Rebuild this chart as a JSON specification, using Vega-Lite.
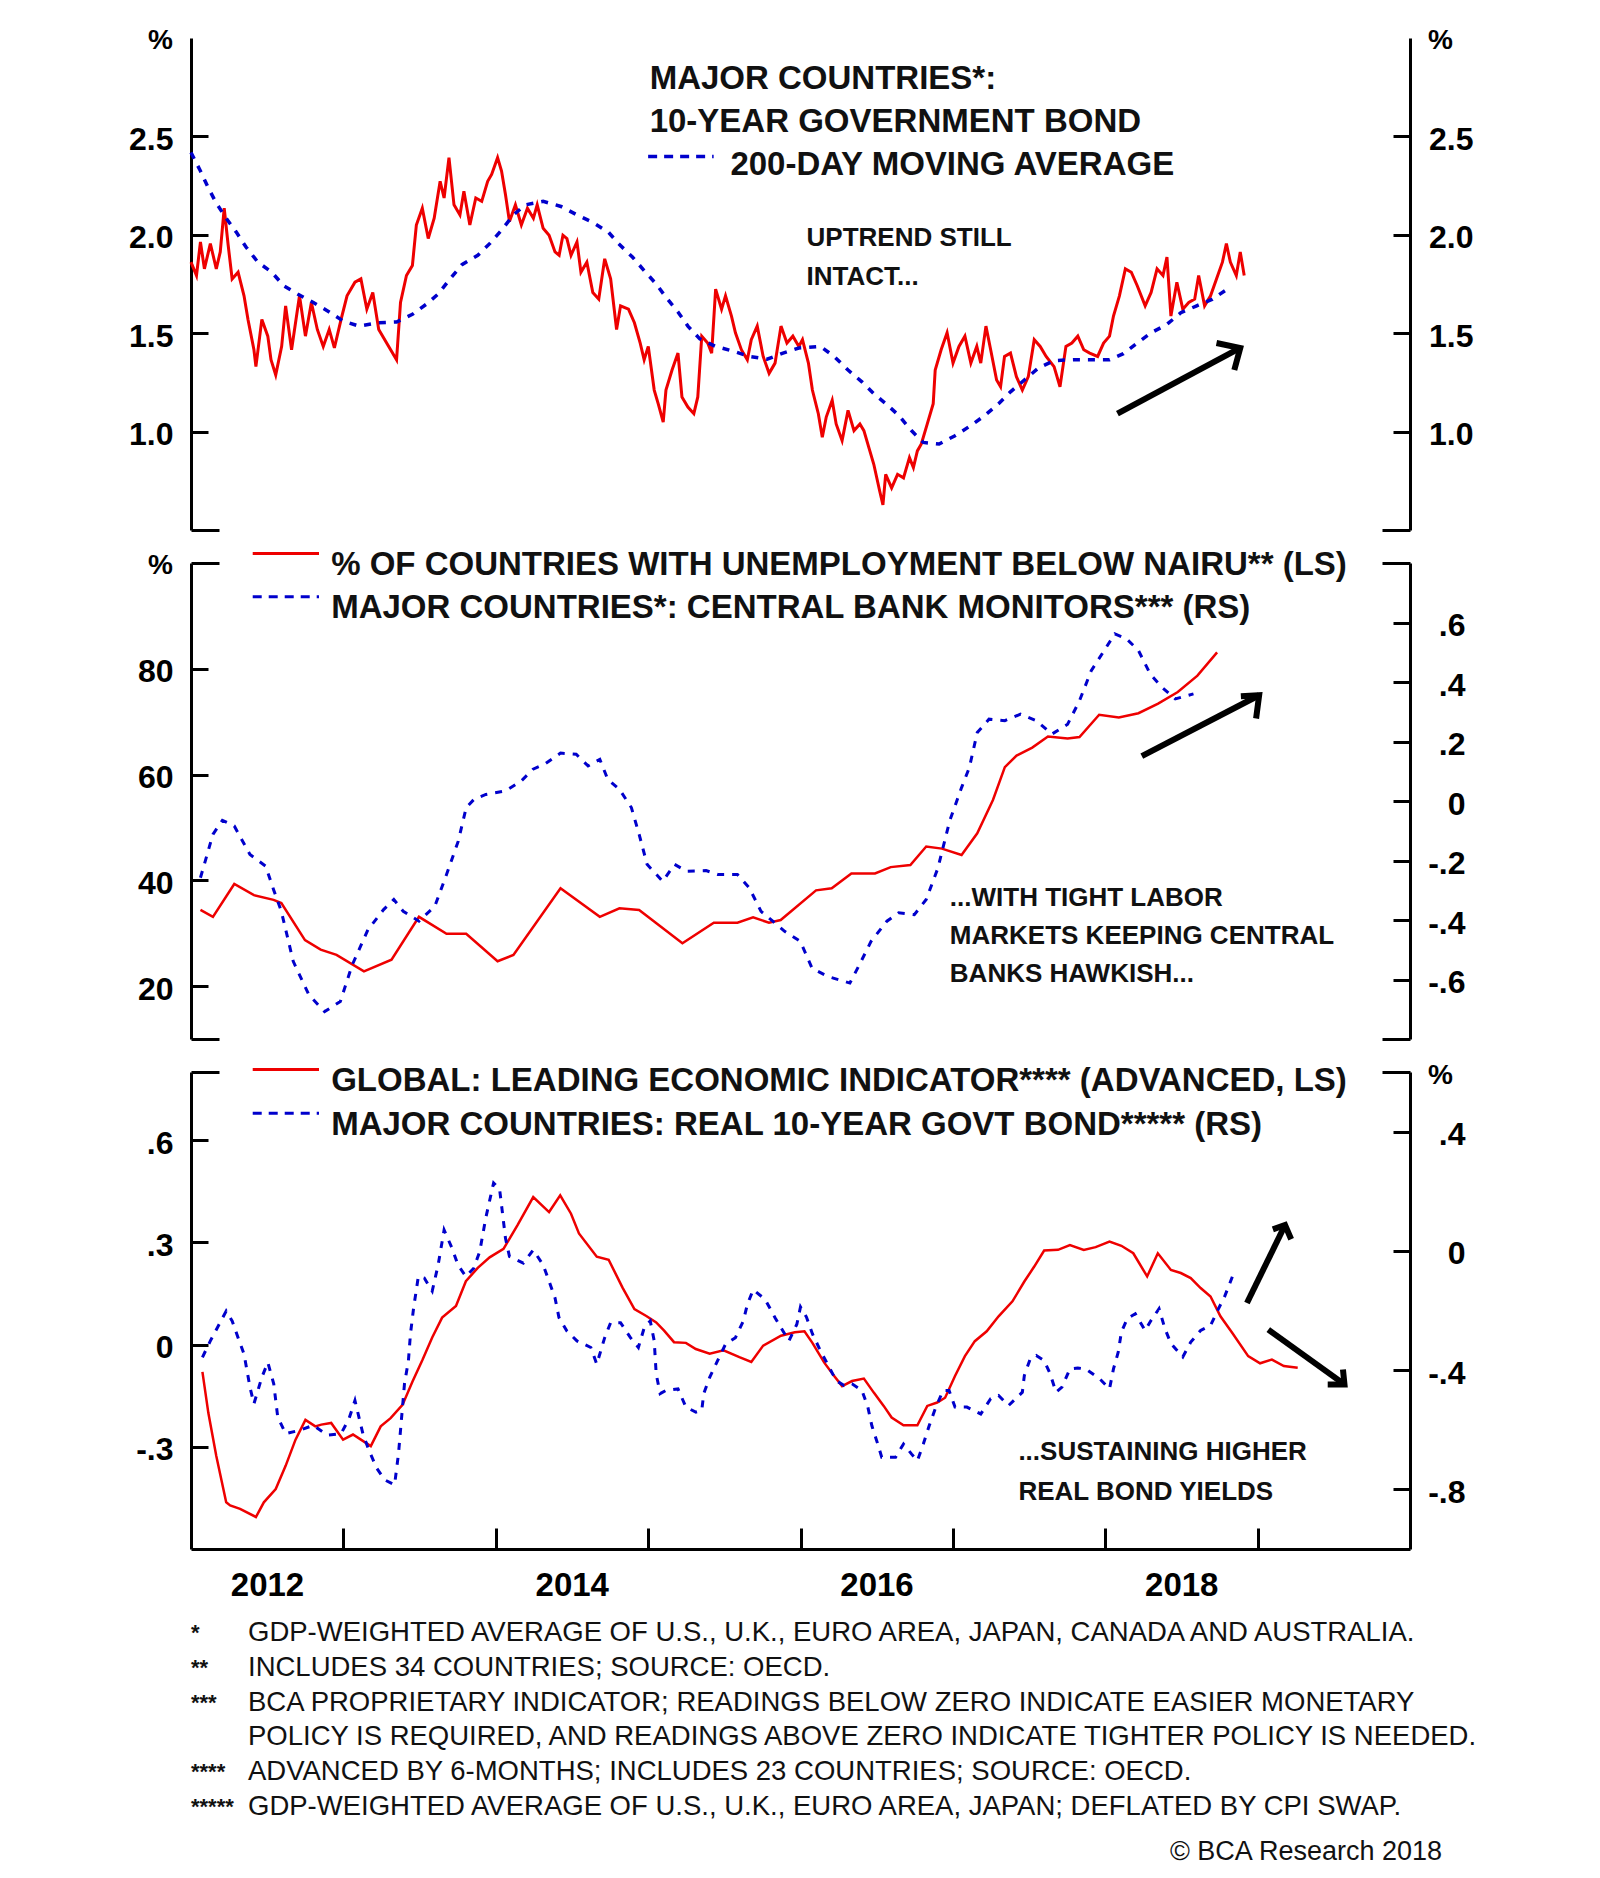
{
"$schema":"https://vega.github.io/schema/vega-lite/v6.json",
"padding":{"left":128,"top":26,"right":10,"bottom":10},
"background":"white",
"config":{"font":"Liberation Sans","view":{"stroke":null},
"axis":{"grid":false,"domainColor":"#000","domainWidth":3,"tickColor":"#000","tickWidth":3,"labelColor":"#000","labelFont":"Liberation Sans","labelFontWeight":"bold","labelFontSize":32,"titleColor":"#000","titleFont":"Liberation Sans","labelOverlap":false,"labelFlush":false},
"text":{"font":"Liberation Sans","color":"#111"}},
"datasets":{
"bond":[{"year":2012.000,"v":1.861},{"year":2012.036,"v":1.793},{"year":2012.062,"v":1.964},{"year":2012.088,"v":1.827},{"year":2012.127,"v":1.955},{"year":2012.166,"v":1.827},{"year":2012.192,"v":1.913},{"year":2012.218,"v":2.135},{"year":2012.244,"v":1.947},{"year":2012.270,"v":1.776},{"year":2012.309,"v":1.810},{"year":2012.348,"v":1.690},{"year":2012.374,"v":1.570},{"year":2012.413,"v":1.416},{"year":2012.426,"v":1.330},{"year":2012.465,"v":1.570},{"year":2012.504,"v":1.485},{"year":2012.525,"v":1.365},{"year":2012.556,"v":1.288},{"year":2012.595,"v":1.433},{"year":2012.621,"v":1.639},{"year":2012.660,"v":1.416},{"year":2012.712,"v":1.690},{"year":2012.751,"v":1.485},{"year":2012.790,"v":1.656},{"year":2012.829,"v":1.519},{"year":2012.868,"v":1.433},{"year":2012.907,"v":1.519},{"year":2012.941,"v":1.425},{"year":2012.985,"v":1.570},{"year":2013.024,"v":1.690},{"year":2013.076,"v":1.759},{"year":2013.115,"v":1.776},{"year":2013.154,"v":1.622},{"year":2013.193,"v":1.707},{"year":2013.232,"v":1.519},{"year":2013.284,"v":1.450},{"year":2013.349,"v":1.365},{"year":2013.375,"v":1.656},{"year":2013.414,"v":1.793},{"year":2013.453,"v":1.844},{"year":2013.479,"v":2.050},{"year":2013.518,"v":2.135},{"year":2013.557,"v":1.981},{"year":2013.596,"v":2.084},{"year":2013.635,"v":2.272},{"year":2013.661,"v":2.187},{"year":2013.693,"v":2.392},{"year":2013.726,"v":2.152},{"year":2013.765,"v":2.101},{"year":2013.791,"v":2.221},{"year":2013.830,"v":2.050},{"year":2013.869,"v":2.187},{"year":2013.908,"v":2.170},{"year":2013.947,"v":2.272},{"year":2013.973,"v":2.307},{"year":2014.012,"v":2.392},{"year":2014.038,"v":2.324},{"year":2014.064,"v":2.204},{"year":2014.090,"v":2.067},{"year":2014.129,"v":2.152},{"year":2014.168,"v":2.050},{"year":2014.208,"v":2.135},{"year":2014.247,"v":2.084},{"year":2014.272,"v":2.152},{"year":2014.311,"v":2.033},{"year":2014.350,"v":1.998},{"year":2014.389,"v":1.913},{"year":2014.416,"v":1.896},{"year":2014.441,"v":1.998},{"year":2014.467,"v":1.981},{"year":2014.494,"v":1.896},{"year":2014.533,"v":1.964},{"year":2014.559,"v":1.810},{"year":2014.598,"v":1.861},{"year":2014.637,"v":1.707},{"year":2014.676,"v":1.673},{"year":2014.715,"v":1.878},{"year":2014.754,"v":1.776},{"year":2014.793,"v":1.519},{"year":2014.819,"v":1.639},{"year":2014.871,"v":1.622},{"year":2014.910,"v":1.553},{"year":2014.948,"v":1.450},{"year":2014.974,"v":1.365},{"year":2015.001,"v":1.433},{"year":2015.040,"v":1.211},{"year":2015.066,"v":1.142},{"year":2015.099,"v":1.048},{"year":2015.117,"v":1.211},{"year":2015.157,"v":1.313},{"year":2015.196,"v":1.399},{"year":2015.222,"v":1.176},{"year":2015.261,"v":1.125},{"year":2015.300,"v":1.091},{"year":2015.326,"v":1.176},{"year":2015.352,"v":1.485},{"year":2015.391,"v":1.450},{"year":2015.417,"v":1.399},{"year":2015.443,"v":1.724},{"year":2015.482,"v":1.622},{"year":2015.508,"v":1.690},{"year":2015.547,"v":1.587},{"year":2015.573,"v":1.502},{"year":2015.612,"v":1.416},{"year":2015.651,"v":1.365},{"year":2015.677,"v":1.467},{"year":2015.716,"v":1.536},{"year":2015.755,"v":1.382},{"year":2015.794,"v":1.296},{"year":2015.833,"v":1.348},{"year":2015.872,"v":1.536},{"year":2015.911,"v":1.450},{"year":2015.950,"v":1.485},{"year":2015.989,"v":1.433},{"year":2016.013,"v":1.467},{"year":2016.052,"v":1.348},{"year":2016.078,"v":1.211},{"year":2016.117,"v":1.091},{"year":2016.143,"v":0.971},{"year":2016.169,"v":1.074},{"year":2016.208,"v":1.159},{"year":2016.234,"v":1.039},{"year":2016.273,"v":0.954},{"year":2016.312,"v":1.108},{"year":2016.351,"v":1.005},{"year":2016.390,"v":1.039},{"year":2016.416,"v":1.005},{"year":2016.455,"v":0.902},{"year":2016.481,"v":0.834},{"year":2016.520,"v":0.697},{"year":2016.541,"v":0.628},{"year":2016.559,"v":0.783},{"year":2016.598,"v":0.714},{"year":2016.637,"v":0.783},{"year":2016.676,"v":0.765},{"year":2016.715,"v":0.868},{"year":2016.741,"v":0.817},{"year":2016.767,"v":0.902},{"year":2016.793,"v":0.937},{"year":2016.832,"v":1.039},{"year":2016.871,"v":1.142},{"year":2016.884,"v":1.313},{"year":2016.923,"v":1.416},{"year":2016.962,"v":1.502},{"year":2017.001,"v":1.348},{"year":2017.040,"v":1.433},{"year":2017.079,"v":1.485},{"year":2017.118,"v":1.348},{"year":2017.157,"v":1.433},{"year":2017.183,"v":1.348},{"year":2017.217,"v":1.536},{"year":2017.248,"v":1.416},{"year":2017.287,"v":1.262},{"year":2017.313,"v":1.228},{"year":2017.339,"v":1.382},{"year":2017.378,"v":1.399},{"year":2017.417,"v":1.279},{"year":2017.456,"v":1.211},{"year":2017.495,"v":1.279},{"year":2017.534,"v":1.467},{"year":2017.573,"v":1.433},{"year":2017.612,"v":1.382},{"year":2017.664,"v":1.330},{"year":2017.703,"v":1.228},{"year":2017.742,"v":1.433},{"year":2017.781,"v":1.450},{"year":2017.820,"v":1.485},{"year":2017.859,"v":1.416},{"year":2017.898,"v":1.399},{"year":2017.950,"v":1.382},{"year":2017.989,"v":1.450},{"year":2018.028,"v":1.485},{"year":2018.054,"v":1.587},{"year":2018.093,"v":1.690},{"year":2018.132,"v":1.827},{"year":2018.171,"v":1.810},{"year":2018.210,"v":1.741},{"year":2018.262,"v":1.639},{"year":2018.301,"v":1.707},{"year":2018.340,"v":1.827},{"year":2018.379,"v":1.793},{"year":2018.405,"v":1.887},{"year":2018.431,"v":1.587},{"year":2018.470,"v":1.759},{"year":2018.509,"v":1.622},{"year":2018.548,"v":1.656},{"year":2018.587,"v":1.673},{"year":2018.613,"v":1.793},{"year":2018.652,"v":1.639},{"year":2018.691,"v":1.690},{"year":2018.730,"v":1.776},{"year":2018.769,"v":1.861},{"year":2018.795,"v":1.955},{"year":2018.821,"v":1.861},{"year":2018.860,"v":1.793},{"year":2018.886,"v":1.913},{"year":2018.912,"v":1.793}],
"ma":[{"year":2012.000,"v":2.418},{"year":2012.062,"v":2.324},{"year":2012.114,"v":2.238},{"year":2012.166,"v":2.161},{"year":2012.231,"v":2.084},{"year":2012.296,"v":2.015},{"year":2012.361,"v":1.938},{"year":2012.439,"v":1.861},{"year":2012.530,"v":1.810},{"year":2012.608,"v":1.741},{"year":2012.699,"v":1.699},{"year":2012.803,"v":1.656},{"year":2012.907,"v":1.608},{"year":2012.998,"v":1.562},{"year":2013.102,"v":1.536},{"year":2013.232,"v":1.553},{"year":2013.349,"v":1.557},{"year":2013.453,"v":1.596},{"year":2013.544,"v":1.647},{"year":2013.622,"v":1.699},{"year":2013.700,"v":1.776},{"year":2013.778,"v":1.848},{"year":2013.882,"v":1.896},{"year":2013.960,"v":1.955},{"year":2014.038,"v":2.024},{"year":2014.116,"v":2.101},{"year":2014.194,"v":2.152},{"year":2014.311,"v":2.170},{"year":2014.428,"v":2.144},{"year":2014.533,"v":2.101},{"year":2014.637,"v":2.063},{"year":2014.741,"v":2.012},{"year":2014.806,"v":1.955},{"year":2014.897,"v":1.887},{"year":2014.974,"v":1.818},{"year":2015.053,"v":1.750},{"year":2015.118,"v":1.682},{"year":2015.196,"v":1.608},{"year":2015.261,"v":1.536},{"year":2015.339,"v":1.471},{"year":2015.443,"v":1.433},{"year":2015.560,"v":1.408},{"year":2015.664,"v":1.382},{"year":2015.781,"v":1.368},{"year":2015.885,"v":1.399},{"year":2015.989,"v":1.425},{"year":2016.130,"v":1.433},{"year":2016.221,"v":1.382},{"year":2016.312,"v":1.313},{"year":2016.403,"v":1.253},{"year":2016.481,"v":1.193},{"year":2016.572,"v":1.134},{"year":2016.645,"v":1.082},{"year":2016.728,"v":1.005},{"year":2016.806,"v":0.945},{"year":2016.910,"v":0.937},{"year":2017.014,"v":0.979},{"year":2017.118,"v":1.031},{"year":2017.209,"v":1.082},{"year":2017.300,"v":1.142},{"year":2017.378,"v":1.202},{"year":2017.469,"v":1.262},{"year":2017.560,"v":1.322},{"year":2017.664,"v":1.361},{"year":2017.794,"v":1.365},{"year":2017.898,"v":1.365},{"year":2018.028,"v":1.365},{"year":2018.119,"v":1.396},{"year":2018.210,"v":1.450},{"year":2018.301,"v":1.502},{"year":2018.405,"v":1.545},{"year":2018.496,"v":1.604},{"year":2018.600,"v":1.639},{"year":2018.704,"v":1.673},{"year":2018.808,"v":1.728}],
"nairu":[{"year":2012.062,"v":34.4},{"year":2012.144,"v":33.1},{"year":2012.284,"v":39.3},{"year":2012.413,"v":37.2},{"year":2012.542,"v":36.3},{"year":2012.593,"v":35.7},{"year":2012.748,"v":28.7},{"year":2012.851,"v":26.9},{"year":2012.955,"v":25.9},{"year":2013.135,"v":22.8},{"year":2013.316,"v":25.0},{"year":2013.496,"v":33.1},{"year":2013.677,"v":29.9},{"year":2013.806,"v":29.9},{"year":2014.012,"v":24.7},{"year":2014.116,"v":25.9},{"year":2014.425,"v":38.5},{"year":2014.683,"v":33.1},{"year":2014.812,"v":34.7},{"year":2014.941,"v":34.4},{"year":2015.225,"v":28.1},{"year":2015.431,"v":32.0},{"year":2015.586,"v":32.0},{"year":2015.689,"v":33.0},{"year":2015.793,"v":32.0},{"year":2015.870,"v":32.5},{"year":2016.102,"v":38.1},{"year":2016.205,"v":38.5},{"year":2016.334,"v":41.3},{"year":2016.489,"v":41.3},{"year":2016.592,"v":42.5},{"year":2016.721,"v":42.9},{"year":2016.825,"v":46.4},{"year":2016.928,"v":46.0},{"year":2017.057,"v":44.8},{"year":2017.160,"v":48.9},{"year":2017.263,"v":55.2},{"year":2017.341,"v":61.4},{"year":2017.418,"v":63.6},{"year":2017.521,"v":65.1},{"year":2017.624,"v":67.2},{"year":2017.753,"v":66.8},{"year":2017.831,"v":67.1},{"year":2017.960,"v":71.3},{"year":2018.089,"v":70.8},{"year":2018.218,"v":71.6},{"year":2018.347,"v":73.4},{"year":2018.476,"v":75.6},{"year":2018.605,"v":78.7},{"year":2018.734,"v":83.1}],
"cbm":[{"year":2012.062,"v":-0.258},{"year":2012.144,"v":-0.112},{"year":2012.206,"v":-0.065},{"year":2012.284,"v":-0.084},{"year":2012.387,"v":-0.180},{"year":2012.490,"v":-0.219},{"year":2012.542,"v":-0.298},{"year":2012.593,"v":-0.371},{"year":2012.671,"v":-0.539},{"year":2012.774,"v":-0.652},{"year":2012.877,"v":-0.708},{"year":2012.980,"v":-0.674},{"year":2013.058,"v":-0.551},{"year":2013.161,"v":-0.433},{"year":2013.264,"v":-0.365},{"year":2013.331,"v":-0.331},{"year":2013.393,"v":-0.371},{"year":2013.496,"v":-0.404},{"year":2013.600,"v":-0.354},{"year":2013.677,"v":-0.247},{"year":2013.754,"v":-0.135},{"year":2013.806,"v":-0.022},{"year":2013.858,"v":0.006},{"year":2013.935,"v":0.022},{"year":2014.064,"v":0.034},{"year":2014.167,"v":0.067},{"year":2014.245,"v":0.107},{"year":2014.322,"v":0.124},{"year":2014.425,"v":0.161},{"year":2014.528,"v":0.157},{"year":2014.606,"v":0.118},{"year":2014.683,"v":0.140},{"year":2014.735,"v":0.073},{"year":2014.812,"v":0.039},{"year":2014.890,"v":-0.022},{"year":2014.941,"v":-0.112},{"year":2014.993,"v":-0.213},{"year":2015.096,"v":-0.270},{"year":2015.173,"v":-0.213},{"year":2015.251,"v":-0.236},{"year":2015.380,"v":-0.234},{"year":2015.457,"v":-0.247},{"year":2015.586,"v":-0.247},{"year":2015.664,"v":-0.292},{"year":2015.741,"v":-0.371},{"year":2015.818,"v":-0.404},{"year":2015.896,"v":-0.438},{"year":2015.999,"v":-0.472},{"year":2016.076,"v":-0.562},{"year":2016.180,"v":-0.590},{"year":2016.324,"v":-0.612},{"year":2016.386,"v":-0.551},{"year":2016.463,"v":-0.472},{"year":2016.567,"v":-0.404},{"year":2016.644,"v":-0.376},{"year":2016.747,"v":-0.382},{"year":2016.825,"v":-0.331},{"year":2016.902,"v":-0.225},{"year":2016.979,"v":-0.067},{"year":2017.057,"v":0.045},{"year":2017.108,"v":0.112},{"year":2017.160,"v":0.230},{"year":2017.237,"v":0.275},{"year":2017.341,"v":0.270},{"year":2017.444,"v":0.292},{"year":2017.547,"v":0.270},{"year":2017.650,"v":0.225},{"year":2017.753,"v":0.258},{"year":2017.831,"v":0.337},{"year":2017.908,"v":0.438},{"year":2017.986,"v":0.500},{"year":2018.063,"v":0.562},{"year":2018.140,"v":0.545},{"year":2018.218,"v":0.506},{"year":2018.295,"v":0.427},{"year":2018.373,"v":0.382},{"year":2018.460,"v":0.343},{"year":2018.579,"v":0.360}],
"lei":[{"year":2012.075,"v":-0.080},{"year":2012.114,"v":-0.201},{"year":2012.166,"v":-0.327},{"year":2012.231,"v":-0.463},{"year":2012.257,"v":-0.472},{"year":2012.322,"v":-0.482},{"year":2012.426,"v":-0.506},{"year":2012.478,"v":-0.463},{"year":2012.556,"v":-0.424},{"year":2012.621,"v":-0.356},{"year":2012.686,"v":-0.279},{"year":2012.751,"v":-0.221},{"year":2012.816,"v":-0.240},{"year":2012.855,"v":-0.235},{"year":2012.920,"v":-0.230},{"year":2012.998,"v":-0.279},{"year":2013.063,"v":-0.264},{"year":2013.115,"v":-0.279},{"year":2013.180,"v":-0.298},{"year":2013.245,"v":-0.240},{"year":2013.310,"v":-0.216},{"year":2013.388,"v":-0.177},{"year":2013.453,"v":-0.109},{"year":2013.518,"v":-0.046},{"year":2013.583,"v":0.021},{"year":2013.648,"v":0.079},{"year":2013.739,"v":0.113},{"year":2013.804,"v":0.186},{"year":2013.882,"v":0.225},{"year":2013.960,"v":0.256},{"year":2014.051,"v":0.281},{"year":2014.142,"v":0.350},{"year":2014.246,"v":0.433},{"year":2014.350,"v":0.389},{"year":2014.423,"v":0.438},{"year":2014.494,"v":0.384},{"year":2014.546,"v":0.326},{"year":2014.663,"v":0.258},{"year":2014.741,"v":0.249},{"year":2014.832,"v":0.167},{"year":2014.910,"v":0.104},{"year":2014.988,"v":0.084},{"year":2015.053,"v":0.065},{"year":2015.105,"v":0.041},{"year":2015.170,"v":0.007},{"year":2015.248,"v":0.005},{"year":2015.313,"v":-0.013},{"year":2015.404,"v":-0.027},{"year":2015.495,"v":-0.017},{"year":2015.599,"v":-0.037},{"year":2015.677,"v":-0.051},{"year":2015.755,"v":-0.003},{"year":2015.872,"v":0.026},{"year":2015.963,"v":0.036},{"year":2016.026,"v":0.039},{"year":2016.078,"v":0.005},{"year":2016.156,"v":-0.053},{"year":2016.221,"v":-0.092},{"year":2016.273,"v":-0.122},{"year":2016.338,"v":-0.107},{"year":2016.416,"v":-0.100},{"year":2016.481,"v":-0.141},{"year":2016.546,"v":-0.180},{"year":2016.598,"v":-0.214},{"year":2016.676,"v":-0.237},{"year":2016.767,"v":-0.237},{"year":2016.832,"v":-0.180},{"year":2016.897,"v":-0.170},{"year":2016.949,"v":-0.156},{"year":2017.014,"v":-0.092},{"year":2017.079,"v":-0.034},{"year":2017.144,"v":0.010},{"year":2017.222,"v":0.039},{"year":2017.300,"v":0.083},{"year":2017.391,"v":0.127},{"year":2017.469,"v":0.185},{"year":2017.534,"v":0.229},{"year":2017.599,"v":0.276},{"year":2017.690,"v":0.278},{"year":2017.768,"v":0.292},{"year":2017.859,"v":0.278},{"year":2017.937,"v":0.286},{"year":2018.028,"v":0.302},{"year":2018.106,"v":0.290},{"year":2018.184,"v":0.268},{"year":2018.275,"v":0.200},{"year":2018.345,"v":0.268},{"year":2018.431,"v":0.219},{"year":2018.496,"v":0.210},{"year":2018.561,"v":0.195},{"year":2018.626,"v":0.166},{"year":2018.691,"v":0.141},{"year":2018.756,"v":0.083},{"year":2018.834,"v":0.034},{"year":2018.938,"v":-0.034},{"year":2019.016,"v":-0.055},{"year":2019.094,"v":-0.044},{"year":2019.172,"v":-0.063},{"year":2019.263,"v":-0.068}],
"real":[{"year":2012.075,"v":-0.357},{"year":2012.127,"v":-0.302},{"year":2012.179,"v":-0.252},{"year":2012.231,"v":-0.202},{"year":2012.270,"v":-0.235},{"year":2012.309,"v":-0.291},{"year":2012.348,"v":-0.346},{"year":2012.387,"v":-0.457},{"year":2012.413,"v":-0.513},{"year":2012.465,"v":-0.424},{"year":2012.504,"v":-0.374},{"year":2012.543,"v":-0.446},{"year":2012.569,"v":-0.557},{"year":2012.621,"v":-0.613},{"year":2012.712,"v":-0.602},{"year":2012.803,"v":-0.585},{"year":2012.894,"v":-0.618},{"year":2012.985,"v":-0.613},{"year":2013.037,"v":-0.563},{"year":2013.076,"v":-0.502},{"year":2013.128,"v":-0.613},{"year":2013.167,"v":-0.668},{"year":2013.219,"v":-0.729},{"year":2013.271,"v":-0.768},{"year":2013.336,"v":-0.785},{"year":2013.362,"v":-0.679},{"year":2013.375,"v":-0.602},{"year":2013.401,"v":-0.446},{"year":2013.427,"v":-0.368},{"year":2013.440,"v":-0.280},{"year":2013.461,"v":-0.191},{"year":2013.492,"v":-0.086},{"year":2013.531,"v":-0.091},{"year":2013.583,"v":-0.135},{"year":2013.622,"v":-0.047},{"year":2013.661,"v":0.070},{"year":2013.713,"v":0.009},{"year":2013.752,"v":-0.047},{"year":2013.804,"v":-0.086},{"year":2013.856,"v":-0.058},{"year":2013.895,"v":-0.002},{"year":2013.934,"v":0.109},{"year":2013.960,"v":0.169},{"year":2013.986,"v":0.228},{"year":2014.025,"v":0.208},{"year":2014.038,"v":0.153},{"year":2014.064,"v":0.042},{"year":2014.090,"v":-0.019},{"year":2014.181,"v":-0.041},{"year":2014.246,"v":0.003},{"year":2014.311,"v":-0.047},{"year":2014.350,"v":-0.102},{"year":2014.389,"v":-0.158},{"year":2014.415,"v":-0.224},{"year":2014.467,"v":-0.269},{"year":2014.533,"v":-0.302},{"year":2014.624,"v":-0.324},{"year":2014.663,"v":-0.380},{"year":2014.715,"v":-0.291},{"year":2014.754,"v":-0.241},{"year":2014.819,"v":-0.241},{"year":2014.884,"v":-0.291},{"year":2014.936,"v":-0.324},{"year":2014.975,"v":-0.257},{"year":2015.014,"v":-0.235},{"year":2015.040,"v":-0.302},{"year":2015.053,"v":-0.413},{"year":2015.079,"v":-0.479},{"year":2015.118,"v":-0.468},{"year":2015.196,"v":-0.463},{"year":2015.248,"v":-0.524},{"year":2015.313,"v":-0.541},{"year":2015.352,"v":-0.535},{"year":2015.365,"v":-0.479},{"year":2015.404,"v":-0.424},{"year":2015.456,"v":-0.368},{"year":2015.508,"v":-0.313},{"year":2015.573,"v":-0.291},{"year":2015.625,"v":-0.235},{"year":2015.651,"v":-0.180},{"year":2015.690,"v":-0.130},{"year":2015.768,"v":-0.163},{"year":2015.833,"v":-0.224},{"year":2015.885,"v":-0.269},{"year":2015.924,"v":-0.302},{"year":2015.976,"v":-0.246},{"year":2016.000,"v":-0.188},{"year":2016.039,"v":-0.222},{"year":2016.078,"v":-0.278},{"year":2016.130,"v":-0.334},{"year":2016.182,"v":-0.384},{"year":2016.234,"v":-0.435},{"year":2016.286,"v":-0.452},{"year":2016.338,"v":-0.446},{"year":2016.403,"v":-0.468},{"year":2016.442,"v":-0.524},{"year":2016.468,"v":-0.586},{"year":2016.507,"v":-0.648},{"year":2016.533,"v":-0.692},{"year":2016.585,"v":-0.692},{"year":2016.624,"v":-0.692},{"year":2016.676,"v":-0.648},{"year":2016.728,"v":-0.681},{"year":2016.767,"v":-0.704},{"year":2016.806,"v":-0.648},{"year":2016.845,"v":-0.586},{"year":2016.884,"v":-0.530},{"year":2016.936,"v":-0.468},{"year":2016.975,"v":-0.468},{"year":2017.014,"v":-0.524},{"year":2017.092,"v":-0.524},{"year":2017.183,"v":-0.547},{"year":2017.248,"v":-0.496},{"year":2017.300,"v":-0.485},{"year":2017.365,"v":-0.519},{"year":2017.456,"v":-0.474},{"year":2017.469,"v":-0.418},{"year":2017.508,"v":-0.362},{"year":2017.547,"v":-0.351},{"year":2017.599,"v":-0.368},{"year":2017.638,"v":-0.412},{"year":2017.677,"v":-0.474},{"year":2017.716,"v":-0.457},{"year":2017.768,"v":-0.396},{"year":2017.820,"v":-0.393},{"year":2017.872,"v":-0.396},{"year":2017.963,"v":-0.429},{"year":2018.028,"v":-0.463},{"year":2018.054,"v":-0.396},{"year":2018.085,"v":-0.340},{"year":2018.106,"v":-0.272},{"year":2018.145,"v":-0.227},{"year":2018.197,"v":-0.211},{"year":2018.262,"v":-0.267},{"year":2018.301,"v":-0.233},{"year":2018.353,"v":-0.194},{"year":2018.392,"v":-0.261},{"year":2018.431,"v":-0.311},{"year":2018.509,"v":-0.356},{"year":2018.561,"v":-0.306},{"year":2018.626,"v":-0.267},{"year":2018.691,"v":-0.250},{"year":2018.743,"v":-0.194},{"year":2018.782,"v":-0.155},{"year":2018.834,"v":-0.087}]
},
"bounds":"flush",
"spacing":33,
"vconcat":[
{"width":1219,"height":492,
"layer":[
{"data":{"name":"bond"},"mark":{"type":"line","color":"#ee0000","strokeWidth":3},
"encoding":{"x":{"field":"year","type":"quantitative","scale":{"domain":[2012,2020],"nice":false},"axis":{"orient":"top","domain":true,"ticks":false,"labels":false,"title":null}},
"y":{"field":"v","type":"quantitative","scale":{"domain":[0.5,3.0],"nice":false,"zero":false},"axis":{"orient":"left","values":[1,1.5,2,2.5],"format":".1f","tickSize":-17,"labelPadding":35,"labelOffset":3,"title":"%","titleAngle":0,"titleX":-31,"titleY":2,"titleAlign":"center","titleBaseline":"middle","titleFontSize":28,"titleFontWeight":"bold"}}}},
{"data":{"name":"ma"},"mark":{"type":"line","color":"#0000cc","strokeWidth":3.5,"strokeDash":[7,8]},
"encoding":{"x":{"field":"year","type":"quantitative","scale":{"domain":[2012,2020],"nice":false},"axis":null},
"y":{"field":"v","type":"quantitative","scale":{"domain":[0.5,3.0],"nice":false,"zero":false},"axis":{"orient":"right","values":[1,1.5,2,2.5],"format":".1f","tickSize":-17,"labelPadding":80,"labelOffset":3,"labelAlign":"right","title":"%","titleAngle":0,"titleX":30,"titleY":2,"titleAlign":"center","titleBaseline":"middle","titleFontSize":28,"titleFontWeight":"bold"}}}},
{"data":{"values":[{"year":2015.0,"year2":2015.43,"v":2.398}]},"mark":{"type":"rule","color":"#0000cc","strokeWidth":3.5,"strokeDash":[9,7]},
"encoding":{"x":{"field":"year","type":"quantitative","scale":{"domain":[2012,2020],"nice":false},"axis":null},"x2":{"field":"year2"},
"y":{"field":"v","type":"quantitative","scale":{"domain":[0.5,3.0],"nice":false,"zero":false},"axis":{"orient":"left","values":[0.5],"domain":false,"labels":false,"ticks":true,"tickSize":-28,"title":null}}}},
{"data":{"values":[{"year":2015.01,"v":2.79,"text":"MAJOR COUNTRIES*:"},{"year":2015.01,"v":2.575,"text":"10-YEAR GOVERNMENT BOND"},{"year":2015.54,"v":2.355,"text":"200-DAY MOVING AVERAGE"}]},
"mark":{"type":"text","align":"left","baseline":"middle","fontSize":33,"fontWeight":"bold"},
"encoding":{"x":{"field":"year","type":"quantitative","scale":{"domain":[2012,2020],"nice":false},"axis":null},
"y":{"field":"v","type":"quantitative","scale":{"domain":[0.5,3.0],"nice":false,"zero":false},"axis":{"orient":"right","values":[0.5],"domain":false,"labels":false,"ticks":true,"tickSize":-28,"title":null}},"text":{"field":"text"}}},
{"data":{"values":[{"year":2016.04,"v":1.985,"text":"UPTREND STILL"},{"year":2016.04,"v":1.784,"text":"INTACT..."}]},
"mark":{"type":"text","align":"left","baseline":"middle","fontSize":26,"fontWeight":"bold"},
"encoding":{"x":{"field":"year","type":"quantitative","scale":{"domain":[2012,2020],"nice":false},"axis":null},
"y":{"field":"v","type":"quantitative","scale":{"domain":[0.5,3.0],"nice":false,"zero":false},"axis":null},"text":{"field":"text"}}},
{"data":{"values":[{"seg":"s","o":1,"year":2018.08,"v":1.091},{"seg":"s","o":2,"year":2018.886,"v":1.425},{"seg":"h","o":1,"year":2018.73,"v":1.45},{"seg":"h","o":2,"year":2018.886,"v":1.425},{"seg":"h","o":3,"year":2018.847,"v":1.313}]},
"mark":{"type":"line","color":"#000","strokeWidth":6,"strokeJoin":"miter"},
"encoding":{"x":{"field":"year","type":"quantitative","scale":{"domain":[2012,2020],"nice":false},"axis":null},
"y":{"field":"v","type":"quantitative","scale":{"domain":[0.5,3.0],"nice":false,"zero":false},"axis":null},"detail":{"field":"seg"},"order":{"field":"o"}}}
],
"resolve":{"scale":{"y":"independent"}}},
{"width":1219,"height":476,
"layer":[
{"data":{"name":"nairu"},"mark":{"type":"line","color":"#ee0000","strokeWidth":2.5},
"encoding":{"x":{"field":"year","type":"quantitative","scale":{"domain":[2012,2020],"nice":false},"axis":null},
"y":{"field":"v","type":"quantitative","scale":{"domain":[10,100],"nice":false,"zero":false},"axis":{"orient":"left","values":[20,40,60,80],"format":"d","tickSize":-17,"labelPadding":35,"labelOffset":3,"title":"%","titleAngle":0,"titleX":-31,"titleY":2,"titleAlign":"center","titleBaseline":"middle","titleFontSize":28,"titleFontWeight":"bold"}}}},
{"data":{"name":"cbm"},"mark":{"type":"line","color":"#0000cc","strokeWidth":3,"strokeDash":[7,8]},
"encoding":{"x":{"field":"year","type":"quantitative","scale":{"domain":[2012,2020],"nice":false},"axis":null},
"y":{"field":"v","type":"quantitative","scale":{"domain":[-0.8,0.8],"nice":false,"zero":false},"axis":{"orient":"right","values":[-0.6,-0.4,-0.2,0,0.2,0.4,0.6],"labelExpr":"datum.value == 0 ? '0' : replace(replace(format(datum.value, '.1f'), '0.', '.'), '\u2212', '-')","tickSize":-17,"labelPadding":72,"labelOffset":3,"labelAlign":"right","title":null}}}},
{"data":{"values":[{"year":2012.405,"year2":2012.84,"v":101.8,"s":"r"},{"year":2012.405,"year2":2012.84,"v":93.6,"s":"b"}]},
"mark":{"type":"rule","strokeWidth":3},
"encoding":{"x":{"field":"year","type":"quantitative","scale":{"domain":[2012,2020],"nice":false},"axis":null},"x2":{"field":"year2"},
"y":{"field":"v","type":"quantitative","scale":{"domain":[10,100],"nice":false,"zero":false},"axis":{"orient":"left","values":[10,100],"domain":false,"labels":false,"ticks":true,"tickSize":-28,"title":null}},
"color":{"field":"s","type":"nominal","scale":{"domain":["r","b"],"range":["#ee0000","#0000cc"]},"legend":null},
"strokeDash":{"field":"s","type":"nominal","scale":{"domain":["r","b"],"range":[[1,0],[9,7]]},"legend":null}}},
{"data":{"values":[{"year":2012.92,"v":99.7,"text":"% OF COUNTRIES WITH UNEMPLOYMENT BELOW NAIRU** (LS)"},{"year":2012.92,"v":91.5,"text":"MAJOR COUNTRIES*: CENTRAL BANK MONITORS*** (RS)"}]},
"mark":{"type":"text","align":"left","baseline":"middle","fontSize":33,"fontWeight":"bold"},
"encoding":{"x":{"field":"year","type":"quantitative","scale":{"domain":[2012,2020],"nice":false},"axis":null},
"y":{"field":"v","type":"quantitative","scale":{"domain":[10,100],"nice":false,"zero":false},"axis":{"orient":"right","values":[10,100],"domain":false,"labels":false,"ticks":true,"tickSize":-28,"title":null}},"text":{"field":"text"}}},
{"data":{"values":[{"year":2016.98,"v":36.6,"text":"...WITH TIGHT LABOR"},{"year":2016.98,"v":29.4,"text":"MARKETS KEEPING CENTRAL"},{"year":2016.98,"v":22.2,"text":"BANKS HAWKISH..."}]},
"mark":{"type":"text","align":"left","baseline":"middle","fontSize":26,"fontWeight":"bold"},
"encoding":{"x":{"field":"year","type":"quantitative","scale":{"domain":[2012,2020],"nice":false},"axis":null},
"y":{"field":"v","type":"quantitative","scale":{"domain":[10,100],"nice":false,"zero":false},"axis":null},"text":{"field":"text"}}},
{"data":{"values":[{"seg":"s","o":1,"year":2018.24,"v":63.5},{"seg":"s","o":2,"year":2019.01,"v":75.0},{"seg":"h","o":1,"year":2018.89,"v":74.8},{"seg":"h","o":2,"year":2019.01,"v":75.0},{"seg":"h","o":3,"year":2018.99,"v":70.6}]},
"mark":{"type":"line","color":"#000","strokeWidth":6,"strokeJoin":"miter"},
"encoding":{"x":{"field":"year","type":"quantitative","scale":{"domain":[2012,2020],"nice":false},"axis":null},
"y":{"field":"v","type":"quantitative","scale":{"domain":[10,100],"nice":false,"zero":false},"axis":null},"detail":{"field":"seg"},"order":{"field":"o"}}}
],
"resolve":{"scale":{"y":"independent","color":"independent","strokeDash":"independent"}}},
{"width":1219,"height":477,
"layer":[
{"data":{"name":"lei"},"mark":{"type":"line","color":"#ee0000","strokeWidth":2.5},
"encoding":{"x":{"field":"year","type":"quantitative","scale":{"domain":[2012,2020],"nice":false},"axis":{"orient":"bottom","domain":true,"ticks":false,"labels":false,"title":null}},
"y":{"field":"v","type":"quantitative","scale":{"domain":[-0.6,0.8],"nice":false,"zero":false},"axis":{"orient":"left","values":[-0.3,0,0.3,0.6],"labelExpr":"datum.value == 0 ? '0' : replace(replace(format(datum.value, '.1f'), '0.', '.'), '\u2212', '-')","tickSize":-17,"labelPadding":35,"labelOffset":3,"title":null}}}},
{"data":{"name":"real"},"mark":{"type":"line","color":"#0000cc","strokeWidth":3,"strokeDash":[7,8]},
"encoding":{"x":{"field":"year","type":"quantitative","scale":{"domain":[2012,2020],"nice":false},"axis":{"orient":"bottom","domain":false,"ticks":true,"labels":false,"values":[2013,2014,2015,2016,2017,2018,2019],"tickSize":-21,"title":null}},
"y":{"field":"v","type":"quantitative","scale":{"domain":[-1.0,0.6],"nice":false,"zero":false},"axis":{"orient":"right","values":[-0.8,-0.4,0,0.4],"labelExpr":"datum.value == 0 ? '0' : replace(replace(format(datum.value, '.1f'), '0.', '.'), '\u2212', '-')","tickSize":-17,"labelPadding":72,"labelOffset":3,"labelAlign":"right","title":"%","titleAngle":0,"titleX":30,"titleY":3.5,"titleAlign":"center","titleBaseline":"middle","titleFontSize":28,"titleFontWeight":"bold"}}}},
{"data":{"values":[{"year":2012.405,"year2":2012.84,"v":0.807,"s":"r"},{"year":2012.405,"year2":2012.84,"v":0.679,"s":"b"}]},
"mark":{"type":"rule","strokeWidth":3},
"encoding":{"x":{"field":"year","type":"quantitative","scale":{"domain":[2012,2020],"nice":false},"axis":null},"x2":{"field":"year2"},
"y":{"field":"v","type":"quantitative","scale":{"domain":[-0.6,0.8],"nice":false,"zero":false},"axis":{"orient":"left","values":[0.8],"domain":false,"labels":false,"ticks":true,"tickSize":-28,"title":null}},
"color":{"field":"s","type":"nominal","scale":{"domain":["r","b"],"range":["#ee0000","#0000cc"]},"legend":null},
"strokeDash":{"field":"s","type":"nominal","scale":{"domain":["r","b"],"range":[[1,0],[9,7]]},"legend":null}}},
{"data":{"values":[{"year":2012.92,"v":0.773,"text":"GLOBAL: LEADING ECONOMIC INDICATOR**** (ADVANCED, LS)"},{"year":2012.92,"v":0.644,"text":"MAJOR COUNTRIES: REAL 10-YEAR GOVT BOND***** (RS)"}]},
"mark":{"type":"text","align":"left","baseline":"middle","fontSize":33,"fontWeight":"bold"},
"encoding":{"x":{"field":"year","type":"quantitative","scale":{"domain":[2012,2020],"nice":false},"axis":{"orient":"bottom","domain":false,"ticks":false,"labels":true,"values":[2012,2014,2016,2018],"format":"d","labelOffset":76,"labelPadding":20,"labelFontSize":33,"title":null}},
"y":{"field":"v","type":"quantitative","scale":{"domain":[-0.6,0.8],"nice":false,"zero":false},"axis":null},"text":{"field":"text"}}},
{"data":{"values":[{"year":2017.43,"v":-0.315,"text":"...SUSTAINING HIGHER"},{"year":2017.43,"v":-0.432,"text":"REAL BOND YIELDS"}]},
"mark":{"type":"text","align":"left","baseline":"middle","fontSize":26,"fontWeight":"bold"},
"encoding":{"x":{"field":"year","type":"quantitative","scale":{"domain":[2012,2020],"nice":false},"axis":null},
"y":{"field":"v","type":"quantitative","scale":{"domain":[-0.6,0.8],"nice":false,"zero":false},"axis":{"orient":"right","values":[0.8],"domain":false,"labels":false,"ticks":true,"tickSize":-28,"title":null}},"text":{"field":"text"}}},
{"data":{"values":[{"seg":"us","o":1,"year":2018.93,"v":0.122},{"seg":"us","o":2,"year":2019.18,"v":0.351},{"seg":"uh","o":1,"year":2019.10,"v":0.338},{"seg":"uh","o":2,"year":2019.18,"v":0.351},{"seg":"uh","o":3,"year":2019.22,"v":0.309},{"seg":"ds","o":1,"year":2019.07,"v":0.044},{"seg":"ds","o":2,"year":2019.57,"v":-0.117},{"seg":"dh","o":1,"year":2019.46,"v":-0.117},{"seg":"dh","o":2,"year":2019.57,"v":-0.117},{"seg":"dh","o":3,"year":2019.56,"v":-0.073}]},
"mark":{"type":"line","color":"#000","strokeWidth":6,"strokeJoin":"miter"},
"encoding":{"x":{"field":"year","type":"quantitative","scale":{"domain":[2012,2020],"nice":false},"axis":null},
"y":{"field":"v","type":"quantitative","scale":{"domain":[-0.6,0.8],"nice":false,"zero":false},"axis":null},"detail":{"field":"seg"},"order":{"field":"o"}}}
],
"resolve":{"scale":{"y":"independent","color":"independent","strokeDash":"independent"},"axis":{"x":"independent"}}},
{"width":1219,"height":278,
"layer":[
{"data":{"values":[{"line":1,"m":"*"},{"line":2,"m":"**"},{"line":3,"m":"***"},{"line":5,"m":"****"},{"line":6,"m":"*****"}]},
"mark":{"type":"text","align":"left","baseline":"middle","fontSize":22,"fontWeight":"bold"},
"encoding":{"x":{"datum":0,"type":"quantitative","scale":{"domain":[0,1],"nice":false},"axis":null},
"y":{"field":"line","type":"quantitative","scale":{"domain":[-0.47,7.53],"nice":false,"zero":false,"reverse":true},"axis":null},"text":{"field":"m"}}},
{"data":{"values":[{"line":1,"t":"GDP-WEIGHTED AVERAGE OF U.S., U.K., EURO AREA, JAPAN, CANADA AND AUSTRALIA."},{"line":2,"t":"INCLUDES 34 COUNTRIES; SOURCE: OECD."},{"line":3,"t":"BCA PROPRIETARY INDICATOR; READINGS BELOW ZERO INDICATE EASIER MONETARY"},{"line":4,"t":"POLICY IS REQUIRED, AND READINGS ABOVE ZERO INDICATE TIGHTER POLICY IS NEEDED."},{"line":5,"t":"ADVANCED BY 6-MONTHS; INCLUDES 23 COUNTRIES; SOURCE: OECD."},{"line":6,"t":"GDP-WEIGHTED AVERAGE OF U.S., U.K., EURO AREA, JAPAN; DEFLATED BY CPI SWAP."}]},
"mark":{"type":"text","align":"left","baseline":"middle","fontSize":27.5,"dx":57},
"encoding":{"x":{"datum":0,"type":"quantitative","scale":{"domain":[0,1],"nice":false},"axis":null},
"y":{"field":"line","type":"quantitative","scale":{"domain":[-0.47,7.53],"nice":false,"zero":false,"reverse":true},"axis":null},"text":{"field":"t"}}},
{"data":{"values":[{"line":7.3,"t":"© BCA Research 2018"}]},
"mark":{"type":"text","align":"right","baseline":"middle","fontSize":27,"dx":32},
"encoding":{"x":{"datum":1,"type":"quantitative","scale":{"domain":[0,1],"nice":false},"axis":null},
"y":{"field":"line","type":"quantitative","scale":{"domain":[-0.47,7.53],"nice":false,"zero":false,"reverse":true},"axis":null},"text":{"field":"t"}}}
]}
]
}
